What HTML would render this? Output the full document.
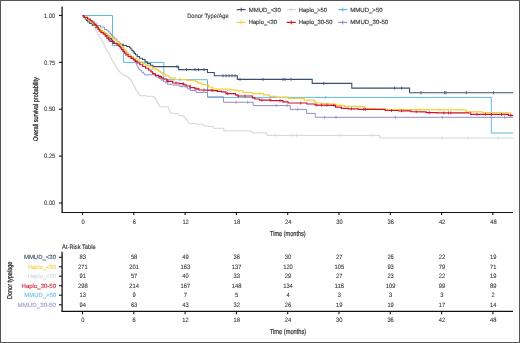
<!DOCTYPE html>
<html><head><meta charset="utf-8"><style>
html,body{margin:0;padding:0;background:#fff;}
body{width:520px;height:343px;overflow:hidden;}
svg{display:block;font-family:"Liberation Sans",sans-serif;text-rendering:geometricPrecision;will-change:transform;}
</style></head><body>
<svg width="520" height="343" viewBox="0 0 520 343">
<rect x="0" y="0" width="520" height="343" fill="#fff"/>
<path d="M5.5,7 V338.5 H514.5 V7" fill="none" stroke="#f9f9f9" stroke-width="1"/>
<g fill="none" stroke-linejoin="miter" stroke-linecap="butt">
<polyline points="82.50,15.70 83.88,15.70 83.88,17.60 86.62,17.60 86.62,19.50 88.00,19.50 89.85,19.50 89.85,21.50 91.70,21.50 92.17,21.50 92.17,23.00 93.10,23.00 93.10,24.50 94.03,24.50 94.03,26.00 94.50,26.00 94.76,26.00 94.76,27.45 95.29,27.45 95.29,28.90 95.81,28.90 95.81,30.35 96.34,30.35 96.34,31.80 96.60,31.80 97.12,31.80 97.12,33.37 98.15,33.37 98.15,34.93 99.18,34.93 99.18,36.50 99.70,36.50 100.23,36.50 100.23,38.33 101.30,38.33 101.30,40.17 102.37,40.17 102.37,42.00 102.90,42.00 103.28,42.00 103.28,43.60 104.03,43.60 104.03,45.20 104.40,45.20 104.58,45.20 104.58,46.57 104.95,46.57 104.95,47.93 105.32,47.93 105.32,49.30 105.50,49.30 106.38,49.30 106.38,51.05 108.12,51.05 108.12,52.80 109.00,52.80 109.29,52.80 109.29,54.27 109.86,54.27 109.86,55.75 110.44,55.75 110.44,57.23 111.01,57.23 111.01,58.70 111.30,58.70 111.74,58.70 111.74,60.15 112.61,60.15 112.61,61.60 113.49,61.60 113.49,63.05 114.36,63.05 114.36,64.50 114.80,64.50 115.24,64.50 115.24,65.95 116.11,65.95 116.11,67.40 116.99,67.40 116.99,68.85 117.86,68.85 117.86,70.30 118.30,70.30 119.17,70.30 119.17,72.05 120.92,72.05 120.92,73.80 121.80,73.80 122.98,73.80 122.98,75.00 125.33,75.00 125.33,76.20 126.50,76.20 128.10,76.20 128.10,78.20 129.70,78.20 130.27,78.20 130.27,79.95 131.43,79.95 131.43,81.70 132.00,81.70 132.38,81.70 132.38,83.23 133.15,83.23 133.15,84.77 133.92,84.77 133.92,86.30 134.30,86.30 134.70,86.30 134.70,87.87 135.50,87.87 135.50,89.43 136.30,89.43 136.30,91.00 136.70,91.00 137.28,91.00 137.28,92.57 138.45,92.57 138.45,94.13 139.62,94.13 139.62,95.70 140.20,95.70 146.60,95.70 146.60,96.30 153.00,96.30 154.15,96.30 154.15,98.00 155.30,98.00 155.70,98.00 155.70,99.57 156.50,99.57 156.50,101.13 157.30,101.13 157.30,102.70 157.70,102.70 158.08,102.70 158.08,104.07 158.85,104.07 158.85,105.43 159.62,105.43 159.62,106.80 160.00,106.80 168.20,106.80 168.49,106.80 168.49,108.38 169.06,108.38 169.06,109.95 169.64,109.95 169.64,111.52 170.21,111.52 170.21,113.10 170.50,113.10 174.00,113.10 174.00,113.70 177.50,113.70 178.65,113.70 178.65,115.40 179.80,115.40 181.55,115.40 181.55,116.00 183.30,116.00 184.18,116.00 184.18,117.75 185.93,117.75 185.93,119.50 186.80,119.50 187.20,119.50 187.20,120.87 188.00,120.87 188.00,122.23 188.80,122.23 188.80,123.60 189.20,123.60 195.60,123.60 195.60,124.20 202.00,124.20 203.15,124.20 203.15,125.90 204.30,125.90 208.40,125.90 208.40,126.50 212.50,126.50 213.10,126.50 213.10,128.30 213.70,128.30 223.80,128.30 223.80,130.90 251.70,130.90 251.70,132.80 267.00,132.80 267.00,135.40 379.80,135.40 379.80,138.00 513.30,138.00" stroke="#d4d4d4" stroke-width="1.0"/>
<polyline points="82.50,15.50 112.50,15.50 112.50,45.40 123.40,45.40 123.40,62.40 163.80,62.40 163.80,79.70 207.50,79.70 207.50,97.40 491.30,97.40 491.30,133.00 513.30,133.00" stroke="#62b8e0" stroke-width="1.0"/>
<polyline points="82.50,15.70 83.88,15.70 83.88,17.60 86.62,17.60 86.62,19.50 88.00,19.50 90.00,19.50 90.00,21.80 92.00,21.80 93.53,21.80 93.53,23.65 96.57,23.65 96.57,25.50 98.10,25.50 100.50,25.50 100.50,27.10 102.90,27.10 104.45,27.10 104.45,29.40 106.00,29.40 106.80,29.40 106.80,30.60 108.40,30.60 108.40,31.80 109.20,31.80 109.97,31.80 109.97,33.75 111.53,33.75 111.53,35.70 112.30,35.70 113.10,35.70 113.10,37.30 114.70,37.30 114.70,38.90 115.50,38.90 117.05,38.90 117.05,41.30 118.60,41.30 119.20,41.30 119.20,43.15 120.40,43.15 120.40,45.00 121.00,45.00 121.50,45.00 121.50,46.50 122.50,46.50 122.50,48.00 123.50,48.00 123.50,49.50 124.00,49.50 125.00,49.50 125.00,51.25 127.00,51.25 127.00,53.00 128.00,53.00 129.00,53.00 129.00,55.00 131.00,55.00 131.00,57.00 132.00,57.00 132.63,57.00 132.63,58.83 133.90,58.83 133.90,60.67 135.17,60.67 135.17,62.50 135.80,62.50 136.20,62.50 136.20,64.17 137.00,64.17 137.00,65.83 137.80,65.83 137.80,67.50 138.20,67.50 138.77,67.50 138.77,68.90 139.93,68.90 139.93,70.30 140.50,70.30 141.75,70.30 141.75,72.30 143.00,72.30 143.55,72.30 143.55,73.55 144.65,73.55 144.65,74.80 145.20,74.80 153.30,74.80 155.65,74.80 155.65,77.00 158.00,77.00 159.00,77.00 159.00,78.50 161.00,78.50 161.00,80.00 162.00,80.00 163.35,80.00 163.35,81.70 164.70,81.70 165.70,81.70 165.70,83.00 167.70,83.00 167.70,84.30 168.70,84.30 171.85,84.30 171.85,85.00 175.00,85.00 179.15,85.00 179.15,86.30 183.30,86.30 184.65,86.30 184.65,87.00 186.00,87.00 187.50,87.00 187.50,88.75 190.50,88.75 190.50,90.50 192.00,90.50 196.00,90.50 196.00,92.40 200.00,92.40 207.50,92.40 207.50,96.90 223.60,96.90 223.60,102.30 253.20,102.30 253.20,105.60 290.20,105.60 290.20,109.40 306.60,109.40 306.60,113.40 315.30,113.40 315.30,117.30 513.30,117.30" stroke="#928ec6" stroke-width="1.0"/>
<polyline points="82.50,15.70 83.60,15.70 83.60,17.50 84.70,17.50 85.27,17.50 85.27,19.00 86.42,19.00 86.42,20.50 87.00,20.50 87.88,20.50 87.88,22.00 89.62,22.00 89.62,23.50 90.50,23.50 92.25,23.50 92.25,25.50 94.00,25.50 95.75,25.50 95.75,27.80 97.50,27.80 98.47,27.80 98.47,29.27 100.40,29.27 100.40,30.73 102.33,30.73 102.33,32.20 103.30,32.20 104.28,32.20 104.28,33.80 106.25,33.80 106.25,35.40 108.22,35.40 108.22,37.00 109.20,37.00 109.93,37.00 109.93,38.62 111.38,38.62 111.38,40.25 112.83,40.25 112.83,41.88 114.28,41.88 114.28,43.50 115.00,43.50 118.60,43.60 120.30,43.60 120.30,44.30 122.00,44.30 123.15,44.30 123.15,45.50 124.30,45.50 126.65,45.50 126.65,46.50 129.00,46.50 129.57,46.50 129.57,47.75 130.73,47.75 130.73,49.00 131.30,49.00 131.90,49.00 131.90,50.45 133.10,50.45 133.10,51.90 133.70,51.90 134.27,51.90 134.27,53.35 135.43,53.35 135.43,54.80 136.00,54.80 137.15,54.80 137.15,56.60 138.30,56.60 139.50,56.60 139.50,58.30 140.70,58.30 142.45,58.30 142.45,59.50 144.20,59.50 145.10,59.50 145.10,61.80 146.00,61.80 147.40,61.80 147.40,63.60 148.80,63.60 150.55,63.60 150.55,65.30 152.30,65.30 152.90,65.30 152.90,66.60 153.50,66.60 178.60,66.60 178.60,69.60 207.50,69.60 207.50,72.50 214.30,72.50 214.30,75.80 237.40,75.80 237.40,79.40 312.20,79.40 312.20,83.40 351.80,83.40 351.80,88.10 409.60,88.10 409.60,92.70 513.30,92.70" stroke="#3a5072" stroke-width="1.1"/>
<polyline points="82.50,15.70 84.25,15.70 84.25,17.80 86.00,17.80 86.95,17.80 86.95,19.17 88.85,19.17 88.85,20.53 90.75,20.53 90.75,21.90 91.70,21.90 92.48,21.90 92.48,23.47 94.05,23.47 94.05,25.03 95.62,25.03 95.62,26.60 96.40,26.60 97.62,26.60 97.62,28.40 100.08,28.40 100.08,30.20 101.30,30.20 102.23,30.20 102.23,31.50 104.08,31.50 104.08,32.80 105.00,32.80 106.05,32.80 106.05,34.35 108.15,34.35 108.15,35.90 109.20,35.90 110.38,35.90 110.38,37.40 112.73,37.40 112.73,38.90 113.90,38.90 114.88,38.90 114.88,40.20 116.83,40.20 116.83,41.50 117.80,41.50 118.50,41.50 118.50,43.17 119.90,43.17 119.90,44.83 121.30,44.83 121.30,46.50 122.00,46.50 122.70,46.50 122.70,48.10 124.10,48.10 124.10,49.70 125.50,49.70 125.50,51.30 126.90,51.30 126.90,52.90 128.30,52.90 128.30,54.50 129.00,54.50 130.45,54.50 130.45,56.40 133.35,56.40 133.35,58.30 134.80,58.30 136.28,58.30 136.28,60.05 139.22,60.05 139.22,61.80 140.70,61.80 142.45,61.80 142.45,63.55 145.95,63.55 145.95,65.30 147.70,65.30 148.85,65.30 148.85,67.00 150.00,67.00 152.35,67.00 152.35,68.60 154.70,68.60 155.85,68.60 155.85,69.60 157.00,69.60 158.17,69.60 158.17,71.07 160.50,71.07 160.50,72.53 162.83,72.53 162.83,74.00 164.00,74.00 165.75,74.00 165.75,75.90 169.25,75.90 169.25,77.80 171.00,77.80 175.00,77.80 175.00,79.50 179.00,79.50 186.65,79.50 186.65,80.30 194.30,80.30 195.48,80.30 195.48,81.65 197.82,81.65 197.82,83.00 199.00,83.00 201.90,83.00 201.90,84.70 204.80,84.70 207.00,84.90 208.60,84.90 208.60,87.00 210.20,87.00 212.95,87.00 212.95,89.20 215.70,89.20 223.60,89.20 227.55,89.20 227.55,89.80 231.50,89.80 235.75,89.80 235.75,90.80 240.00,90.80 243.35,90.80 243.35,92.50 246.70,92.50 252.50,92.50 252.50,93.70 258.30,93.70 263.55,93.70 263.55,94.80 268.80,94.80 269.40,94.80 269.40,96.40 270.00,96.40 275.85,96.40 275.85,97.20 281.70,97.20 288.35,97.20 288.35,98.30 295.00,98.30 304.15,98.30 304.15,100.10 313.30,100.10 314.18,100.10 314.18,101.55 315.93,101.55 315.93,103.00 316.80,103.00 320.90,103.00 320.90,103.60 325.00,103.60 329.65,103.60 329.65,104.20 334.30,104.20 336.65,104.20 336.65,105.30 339.00,105.30 344.50,105.30 344.50,106.30 350.00,106.30 356.25,106.30 356.25,106.70 362.50,106.70 364.85,106.70 364.85,108.60 367.20,108.60 375.35,108.60 375.35,109.00 383.50,109.00 387.60,109.00 387.60,109.60 391.70,109.60 411.70,109.70 461.80,109.90 465.90,109.90 465.90,111.90 470.00,111.90 482.50,111.90 482.50,112.70 495.00,112.70 511.50,113.00" stroke="#f3d03c" stroke-width="1.2"/>
<polyline points="82.50,15.70 84.15,15.70 84.15,17.30 85.80,17.30 87.60,17.30 87.60,19.00 89.40,19.00 90.28,19.00 90.28,20.50 92.03,20.50 92.03,22.00 92.90,22.00 94.05,22.00 94.05,24.30 95.20,24.30 95.77,24.30 95.77,25.75 96.92,25.75 96.92,27.20 97.50,27.20 98.05,27.20 98.05,29.10 99.15,29.10 99.15,31.00 99.70,31.00 100.88,31.00 100.88,32.60 103.23,32.60 103.23,34.20 104.40,34.20 105.20,34.20 105.20,36.15 106.80,36.15 106.80,38.10 107.60,38.10 108.38,38.10 108.38,39.80 109.92,39.80 109.92,41.50 110.70,41.50 113.10,41.50 113.10,43.30 115.50,43.30 117.05,43.30 117.05,45.20 118.60,45.20 119.15,45.20 119.15,46.50 120.25,46.50 120.25,47.80 120.80,47.80 121.54,47.80 121.54,49.55 123.01,49.55 123.01,51.30 124.49,51.30 124.49,53.05 125.96,53.05 125.96,54.80 126.70,54.80 128.15,54.80 128.15,56.55 131.05,56.55 131.05,58.30 132.50,58.30 133.47,58.30 133.47,59.87 135.40,59.87 135.40,61.43 137.33,61.43 137.33,63.00 138.30,63.00 139.78,63.00 139.78,64.75 142.72,64.75 142.72,66.50 144.20,66.50 145.65,66.50 145.65,68.25 148.55,68.25 148.55,70.00 150.00,70.00 150.88,70.00 150.88,71.85 152.62,71.85 152.62,73.70 153.50,73.70 155.25,73.70 155.25,75.40 157.00,75.40 158.75,75.40 158.75,76.60 160.50,76.60 161.38,76.60 161.38,77.80 163.12,77.80 163.12,79.00 164.00,79.00 166.90,79.00 166.90,81.30 169.80,81.30 172.75,81.30 172.75,83.00 175.70,83.00 179.20,83.00 179.20,83.60 182.70,83.60 183.85,83.60 183.85,84.80 186.15,84.80 186.15,86.00 187.30,86.00 190.15,86.00 190.15,87.70 193.00,87.70 194.85,87.70 194.85,88.80 196.70,88.80 199.00,88.80 199.00,90.00 201.30,90.00 208.00,90.20 211.85,90.20 211.85,90.60 215.70,90.60 217.35,90.60 217.35,91.40 219.00,91.40 221.30,91.40 221.30,91.80 223.60,91.80 225.95,91.80 225.95,93.60 228.30,93.60 234.60,93.60 235.45,93.60 235.45,94.80 237.15,94.80 237.15,96.00 238.00,96.00 251.30,96.00 252.50,96.00 252.50,97.80 253.70,97.80 254.85,97.80 254.85,99.00 256.00,99.00 259.50,99.00 259.50,100.10 263.00,100.10 271.15,100.10 271.15,100.70 279.30,100.70 282.80,100.70 282.80,101.80 286.30,101.80 288.05,101.80 288.05,103.00 289.80,103.00 300.50,103.00 306.90,103.00 306.90,104.00 313.30,104.00 315.05,104.00 315.05,105.10 316.80,105.10 334.30,105.30 335.50,105.30 335.50,107.10 336.70,107.10 341.35,107.10 341.35,108.30 346.00,108.30 348.40,108.30 348.40,108.80 350.80,108.80 358.40,108.80 358.40,109.40 366.00,109.40 383.50,109.40 385.25,109.40 385.25,110.50 387.00,110.50 398.75,110.50 398.75,110.90 410.50,110.90 411.00,110.90 411.00,111.70 411.50,111.70 425.50,111.80 426.10,111.80 426.10,112.60 426.70,112.60 436.70,112.60 436.70,112.90 446.70,112.90 470.00,112.90 470.60,112.90 470.60,114.30 471.20,114.30 508.50,114.40 508.50,115.30 513.30,115.30" stroke="#c8142e" stroke-width="1.2"/>
<g stroke="#3a5072" stroke-width="0.8"><line x1="177.0" y1="65.0" x2="177.0" y2="68.2"/><line x1="186.5" y1="68.0" x2="186.5" y2="71.2"/><line x1="195.0" y1="68.0" x2="195.0" y2="71.2"/><line x1="198.5" y1="68.0" x2="198.5" y2="71.2"/><line x1="204.0" y1="68.0" x2="204.0" y2="71.2"/><line x1="223.0" y1="74.2" x2="223.0" y2="77.4"/><line x1="226.0" y1="74.2" x2="226.0" y2="77.4"/><line x1="229.0" y1="74.2" x2="229.0" y2="77.4"/><line x1="232.0" y1="74.2" x2="232.0" y2="77.4"/><line x1="235.0" y1="74.2" x2="235.0" y2="77.4"/><line x1="240.0" y1="77.8" x2="240.0" y2="81.0"/><line x1="263.0" y1="77.8" x2="263.0" y2="81.0"/><line x1="283.0" y1="77.8" x2="283.0" y2="81.0"/><line x1="285.0" y1="77.8" x2="285.0" y2="81.0"/><line x1="291.0" y1="77.8" x2="291.0" y2="81.0"/><line x1="323.8" y1="81.8" x2="323.8" y2="85.0"/><line x1="394.6" y1="86.5" x2="394.6" y2="89.7"/><line x1="401.6" y1="86.5" x2="401.6" y2="89.7"/><line x1="421.0" y1="91.1" x2="421.0" y2="94.3"/><line x1="444.6" y1="91.1" x2="444.6" y2="94.3"/><line x1="446.0" y1="91.1" x2="446.0" y2="94.3"/><line x1="466.3" y1="91.1" x2="466.3" y2="94.3"/><line x1="493.5" y1="91.1" x2="493.5" y2="94.3"/></g>
<g stroke="#c8142e" stroke-width="0.8"><line x1="160.0" y1="75.1" x2="160.0" y2="78.1"/><line x1="168.0" y1="79.8" x2="168.0" y2="82.8"/><line x1="176.0" y1="81.5" x2="176.0" y2="84.5"/><line x1="183.0" y1="82.1" x2="183.0" y2="85.1"/><line x1="190.0" y1="84.5" x2="190.0" y2="87.5"/><line x1="197.0" y1="87.3" x2="197.0" y2="90.3"/><line x1="204.0" y1="88.6" x2="204.0" y2="91.6"/><line x1="212.0" y1="89.1" x2="212.0" y2="92.1"/><line x1="227.7" y1="92.1" x2="227.7" y2="95.1"/><line x1="238.5" y1="94.5" x2="238.5" y2="97.5"/><line x1="245.0" y1="94.5" x2="245.0" y2="97.5"/><line x1="262.0" y1="98.6" x2="262.0" y2="101.6"/><line x1="270.0" y1="98.6" x2="270.0" y2="101.6"/><line x1="280.0" y1="99.2" x2="280.0" y2="102.2"/><line x1="300.8" y1="101.5" x2="300.8" y2="104.5"/><line x1="316.9" y1="103.6" x2="316.9" y2="106.6"/><line x1="321.5" y1="103.7" x2="321.5" y2="106.7"/><line x1="326.9" y1="103.7" x2="326.9" y2="106.7"/><line x1="333.8" y1="103.8" x2="333.8" y2="106.8"/><line x1="351.5" y1="107.3" x2="351.5" y2="110.3"/><line x1="363.8" y1="107.9" x2="363.8" y2="110.9"/><line x1="365.4" y1="107.9" x2="365.4" y2="110.9"/><line x1="391.5" y1="109.0" x2="391.5" y2="112.0"/><line x1="401.5" y1="109.4" x2="401.5" y2="112.4"/><line x1="416.2" y1="110.2" x2="416.2" y2="113.2"/><line x1="429.2" y1="111.1" x2="429.2" y2="114.1"/><line x1="443.8" y1="111.4" x2="443.8" y2="114.4"/><line x1="448.5" y1="111.4" x2="448.5" y2="114.4"/><line x1="450.8" y1="111.4" x2="450.8" y2="114.4"/><line x1="477.0" y1="112.8" x2="477.0" y2="115.8"/><line x1="485.4" y1="112.8" x2="485.4" y2="115.8"/><line x1="491.5" y1="112.9" x2="491.5" y2="115.9"/><line x1="501.5" y1="112.9" x2="501.5" y2="115.9"/><line x1="510.8" y1="113.8" x2="510.8" y2="116.8"/></g>
<g stroke="#928ec6" stroke-width="0.8"><line x1="182.0" y1="84.8" x2="182.0" y2="87.8"/><line x1="190.0" y1="87.2" x2="190.0" y2="90.2"/><line x1="236.0" y1="100.8" x2="236.0" y2="103.8"/><line x1="247.7" y1="100.8" x2="247.7" y2="103.8"/><line x1="276.2" y1="104.1" x2="276.2" y2="107.1"/><line x1="287.0" y1="104.1" x2="287.0" y2="107.1"/><line x1="297.7" y1="107.9" x2="297.7" y2="110.9"/><line x1="324.6" y1="115.8" x2="324.6" y2="118.8"/><line x1="336.0" y1="115.8" x2="336.0" y2="118.8"/><line x1="395.4" y1="115.8" x2="395.4" y2="118.8"/><line x1="442.3" y1="115.8" x2="442.3" y2="118.8"/><line x1="504.6" y1="115.8" x2="504.6" y2="118.8"/></g>
<g stroke="#f3d03c" stroke-width="0.8"><line x1="200.0" y1="81.5" x2="200.0" y2="84.5"/><line x1="230.0" y1="88.3" x2="230.0" y2="91.3"/><line x1="260.0" y1="92.2" x2="260.0" y2="95.2"/><line x1="300.0" y1="96.8" x2="300.0" y2="99.8"/><line x1="340.0" y1="103.8" x2="340.0" y2="106.8"/><line x1="360.0" y1="105.2" x2="360.0" y2="108.2"/><line x1="400.0" y1="108.1" x2="400.0" y2="111.1"/><line x1="420.0" y1="108.2" x2="420.0" y2="111.2"/><line x1="440.0" y1="108.3" x2="440.0" y2="111.3"/><line x1="470.0" y1="110.4" x2="470.0" y2="113.4"/><line x1="500.0" y1="111.3" x2="500.0" y2="114.3"/></g>
<g stroke="#d4d4d4" stroke-width="0.8"><line x1="275.0" y1="133.9" x2="275.0" y2="136.9"/><line x1="292.6" y1="133.9" x2="292.6" y2="136.9"/><line x1="296.6" y1="133.9" x2="296.6" y2="136.9"/><line x1="339.7" y1="133.9" x2="339.7" y2="136.9"/><line x1="372.0" y1="133.9" x2="372.0" y2="136.9"/><line x1="442.0" y1="136.5" x2="442.0" y2="139.5"/><line x1="468.0" y1="136.5" x2="468.0" y2="139.5"/><line x1="498.0" y1="136.5" x2="498.0" y2="139.5"/></g>
<g stroke="#62b8e0" stroke-width="0.8"><line x1="180.0" y1="78.2" x2="180.0" y2="81.2"/><line x1="325.7" y1="95.9" x2="325.7" y2="98.9"/></g>
</g>
<g stroke="#111" stroke-width="1.3" fill="none">
<polyline points="62.1,6.5 62.1,212.5"/><polyline points="61.5,212.5 513,212.5" stroke-width="1.1"/>
<line x1="82.5" y1="212.5" x2="82.5" y2="214.9" stroke-width="1.1"/><line x1="133.8" y1="212.5" x2="133.8" y2="214.9" stroke-width="1.1"/><line x1="185.1" y1="212.5" x2="185.1" y2="214.9" stroke-width="1.1"/><line x1="236.4" y1="212.5" x2="236.4" y2="214.9" stroke-width="1.1"/><line x1="287.7" y1="212.5" x2="287.7" y2="214.9" stroke-width="1.1"/><line x1="339.0" y1="212.5" x2="339.0" y2="214.9" stroke-width="1.1"/><line x1="390.3" y1="212.5" x2="390.3" y2="214.9" stroke-width="1.1"/><line x1="441.6" y1="212.5" x2="441.6" y2="214.9" stroke-width="1.1"/><line x1="492.9" y1="212.5" x2="492.9" y2="214.9" stroke-width="1.1"/><line x1="59" y1="15.5" x2="62" y2="15.5" stroke-width="1.1"/><line x1="59" y1="62.4" x2="62" y2="62.4" stroke-width="1.1"/><line x1="59" y1="109.2" x2="62" y2="109.2" stroke-width="1.1"/><line x1="59" y1="156.1" x2="62" y2="156.1" stroke-width="1.1"/><line x1="59" y1="203.0" x2="62" y2="203.0" stroke-width="1.1"/>
<polyline points="62.1,251.8 62.1,311.4"/><polyline points="61.5,311.4 513,311.4" stroke-width="1.15"/>
<line x1="59" y1="257.3" x2="62" y2="257.3" stroke-width="1.1"/><line x1="59" y1="266.8" x2="62" y2="266.8" stroke-width="1.1"/><line x1="59" y1="276.2" x2="62" y2="276.2" stroke-width="1.1"/><line x1="59" y1="285.7" x2="62" y2="285.7" stroke-width="1.1"/><line x1="59" y1="295.2" x2="62" y2="295.2" stroke-width="1.1"/><line x1="59" y1="304.8" x2="62" y2="304.8" stroke-width="1.1"/><line x1="82.5" y1="311.4" x2="82.5" y2="314.2" stroke-width="1.1"/><line x1="133.8" y1="311.4" x2="133.8" y2="314.2" stroke-width="1.1"/><line x1="185.1" y1="311.4" x2="185.1" y2="314.2" stroke-width="1.1"/><line x1="236.4" y1="311.4" x2="236.4" y2="314.2" stroke-width="1.1"/><line x1="287.7" y1="311.4" x2="287.7" y2="314.2" stroke-width="1.1"/><line x1="339.0" y1="311.4" x2="339.0" y2="314.2" stroke-width="1.1"/><line x1="390.3" y1="311.4" x2="390.3" y2="314.2" stroke-width="1.1"/><line x1="441.6" y1="311.4" x2="441.6" y2="314.2" stroke-width="1.1"/><line x1="492.9" y1="311.4" x2="492.9" y2="314.2" stroke-width="1.1"/>
</g>
<g fill="#333333">
<text x="55.30" y="17.70" font-size="6.3" text-anchor="end" stroke="#333333" stroke-width="0.08" textLength="11.20" lengthAdjust="spacingAndGlyphs">1.00</text><text x="55.30" y="64.58" font-size="6.3" text-anchor="end" stroke="#333333" stroke-width="0.08" textLength="11.20" lengthAdjust="spacingAndGlyphs">0.75</text><text x="55.30" y="111.45" font-size="6.3" text-anchor="end" stroke="#333333" stroke-width="0.08" textLength="11.20" lengthAdjust="spacingAndGlyphs">0.50</text><text x="55.30" y="158.32" font-size="6.3" text-anchor="end" stroke="#333333" stroke-width="0.08" textLength="11.20" lengthAdjust="spacingAndGlyphs">0.25</text><text x="55.30" y="205.20" font-size="6.3" text-anchor="end" stroke="#333333" stroke-width="0.08" textLength="11.20" lengthAdjust="spacingAndGlyphs">0.00</text><text x="83.00" y="224.20" font-size="6.3" text-anchor="middle" stroke="#333333" stroke-width="0.08" textLength="3.23" lengthAdjust="spacingAndGlyphs">0</text><text x="134.30" y="224.20" font-size="6.3" text-anchor="middle" stroke="#333333" stroke-width="0.08" textLength="3.23" lengthAdjust="spacingAndGlyphs">6</text><text x="185.60" y="224.20" font-size="6.3" text-anchor="middle" stroke="#333333" stroke-width="0.08" textLength="6.45" lengthAdjust="spacingAndGlyphs">12</text><text x="236.90" y="224.20" font-size="6.3" text-anchor="middle" stroke="#333333" stroke-width="0.08" textLength="6.45" lengthAdjust="spacingAndGlyphs">18</text><text x="288.20" y="224.20" font-size="6.3" text-anchor="middle" stroke="#333333" stroke-width="0.08" textLength="6.45" lengthAdjust="spacingAndGlyphs">24</text><text x="339.50" y="224.20" font-size="6.3" text-anchor="middle" stroke="#333333" stroke-width="0.08" textLength="6.45" lengthAdjust="spacingAndGlyphs">30</text><text x="390.80" y="224.20" font-size="6.3" text-anchor="middle" stroke="#333333" stroke-width="0.08" textLength="6.45" lengthAdjust="spacingAndGlyphs">36</text><text x="442.10" y="224.20" font-size="6.3" text-anchor="middle" stroke="#333333" stroke-width="0.08" textLength="6.45" lengthAdjust="spacingAndGlyphs">42</text><text x="493.40" y="224.20" font-size="6.3" text-anchor="middle" stroke="#333333" stroke-width="0.08" textLength="6.45" lengthAdjust="spacingAndGlyphs">48</text>
<line x1="236.7" y1="9.6" x2="245.7" y2="9.6" stroke="#3a5072" stroke-width="1.2"/><line x1="241.2" y1="7.6" x2="241.2" y2="11.6" stroke="#3a5072" stroke-width="1"/><text x="248.70" y="11.60" font-size="6.0" stroke="#333333" stroke-width="0.14" textLength="32.10" lengthAdjust="spacingAndGlyphs">MMUD_&lt;30</text><line x1="286.8" y1="9.6" x2="295.8" y2="9.6" stroke="#d4d4d4" stroke-width="1.2"/><line x1="291.3" y1="7.6" x2="291.3" y2="11.6" stroke="#d4d4d4" stroke-width="1"/><text x="298.80" y="11.60" font-size="6.0" stroke="#333333" stroke-width="0.14" textLength="28.30" lengthAdjust="spacingAndGlyphs">Haplo_&gt;50</text><line x1="338.3" y1="9.6" x2="347.3" y2="9.6" stroke="#62b8e0" stroke-width="1.2"/><line x1="342.8" y1="7.6" x2="342.8" y2="11.6" stroke="#62b8e0" stroke-width="1"/><text x="350.30" y="11.60" font-size="6.0" stroke="#333333" stroke-width="0.14" textLength="32.30" lengthAdjust="spacingAndGlyphs">MMUD_&gt;50</text><line x1="236.7" y1="22.4" x2="245.7" y2="22.4" stroke="#f3d03c" stroke-width="1.2"/><line x1="241.2" y1="20.4" x2="241.2" y2="24.4" stroke="#f3d03c" stroke-width="1"/><text x="248.70" y="24.40" font-size="6.0" stroke="#333333" stroke-width="0.14" textLength="28.30" lengthAdjust="spacingAndGlyphs">Haplo_&lt;30</text><line x1="286.8" y1="22.4" x2="295.8" y2="22.4" stroke="#c8142e" stroke-width="1.2"/><line x1="291.3" y1="20.4" x2="291.3" y2="24.4" stroke="#c8142e" stroke-width="1"/><text x="298.80" y="24.40" font-size="6.0" stroke="#333333" stroke-width="0.14" textLength="33.70" lengthAdjust="spacingAndGlyphs">Haplo_30-50</text><line x1="338.3" y1="22.4" x2="347.3" y2="22.4" stroke="#928ec6" stroke-width="1.2"/><line x1="342.8" y1="20.4" x2="342.8" y2="24.4" stroke="#928ec6" stroke-width="1"/><text x="350.30" y="24.40" font-size="6.0" stroke="#333333" stroke-width="0.14" textLength="37.90" lengthAdjust="spacingAndGlyphs">MMUD_30-50</text>
<text x="187.20" y="17.70" font-size="6.3" stroke="#333333" stroke-width="0.1" textLength="41.60" lengthAdjust="spacingAndGlyphs">Donor Type/Age</text>
<text x="62.10" y="248.50" font-size="6.4" stroke="#333333" stroke-width="0.15" textLength="33.60" lengthAdjust="spacingAndGlyphs">At-Risk Table</text>
<text x="82.80" y="259.40" font-size="6.3" text-anchor="middle" stroke="#333333" stroke-width="0.08" textLength="6.45" lengthAdjust="spacingAndGlyphs">83</text><text x="134.10" y="259.40" font-size="6.3" text-anchor="middle" stroke="#333333" stroke-width="0.08" textLength="6.45" lengthAdjust="spacingAndGlyphs">58</text><text x="185.40" y="259.40" font-size="6.3" text-anchor="middle" stroke="#333333" stroke-width="0.08" textLength="6.45" lengthAdjust="spacingAndGlyphs">49</text><text x="236.70" y="259.40" font-size="6.3" text-anchor="middle" stroke="#333333" stroke-width="0.08" textLength="6.45" lengthAdjust="spacingAndGlyphs">36</text><text x="288.00" y="259.40" font-size="6.3" text-anchor="middle" stroke="#333333" stroke-width="0.08" textLength="6.45" lengthAdjust="spacingAndGlyphs">30</text><text x="339.30" y="259.40" font-size="6.3" text-anchor="middle" stroke="#333333" stroke-width="0.08" textLength="6.45" lengthAdjust="spacingAndGlyphs">27</text><text x="390.60" y="259.40" font-size="6.3" text-anchor="middle" stroke="#333333" stroke-width="0.08" textLength="6.45" lengthAdjust="spacingAndGlyphs">26</text><text x="441.90" y="259.40" font-size="6.3" text-anchor="middle" stroke="#333333" stroke-width="0.08" textLength="6.45" lengthAdjust="spacingAndGlyphs">22</text><text x="493.20" y="259.40" font-size="6.3" text-anchor="middle" stroke="#333333" stroke-width="0.08" textLength="6.45" lengthAdjust="spacingAndGlyphs">19</text><text x="82.80" y="268.90" font-size="6.3" text-anchor="middle" stroke="#333333" stroke-width="0.08" textLength="9.68" lengthAdjust="spacingAndGlyphs">271</text><text x="134.10" y="268.90" font-size="6.3" text-anchor="middle" stroke="#333333" stroke-width="0.08" textLength="9.68" lengthAdjust="spacingAndGlyphs">201</text><text x="185.40" y="268.90" font-size="6.3" text-anchor="middle" stroke="#333333" stroke-width="0.08" textLength="9.68" lengthAdjust="spacingAndGlyphs">163</text><text x="236.70" y="268.90" font-size="6.3" text-anchor="middle" stroke="#333333" stroke-width="0.08" textLength="9.68" lengthAdjust="spacingAndGlyphs">137</text><text x="288.00" y="268.90" font-size="6.3" text-anchor="middle" stroke="#333333" stroke-width="0.08" textLength="9.68" lengthAdjust="spacingAndGlyphs">120</text><text x="339.30" y="268.90" font-size="6.3" text-anchor="middle" stroke="#333333" stroke-width="0.08" textLength="9.68" lengthAdjust="spacingAndGlyphs">105</text><text x="390.60" y="268.90" font-size="6.3" text-anchor="middle" stroke="#333333" stroke-width="0.08" textLength="6.45" lengthAdjust="spacingAndGlyphs">93</text><text x="441.90" y="268.90" font-size="6.3" text-anchor="middle" stroke="#333333" stroke-width="0.08" textLength="6.45" lengthAdjust="spacingAndGlyphs">79</text><text x="493.20" y="268.90" font-size="6.3" text-anchor="middle" stroke="#333333" stroke-width="0.08" textLength="6.45" lengthAdjust="spacingAndGlyphs">71</text><text x="82.80" y="278.30" font-size="6.3" text-anchor="middle" stroke="#333333" stroke-width="0.08" textLength="6.45" lengthAdjust="spacingAndGlyphs">91</text><text x="134.10" y="278.30" font-size="6.3" text-anchor="middle" stroke="#333333" stroke-width="0.08" textLength="6.45" lengthAdjust="spacingAndGlyphs">57</text><text x="185.40" y="278.30" font-size="6.3" text-anchor="middle" stroke="#333333" stroke-width="0.08" textLength="6.45" lengthAdjust="spacingAndGlyphs">40</text><text x="236.70" y="278.30" font-size="6.3" text-anchor="middle" stroke="#333333" stroke-width="0.08" textLength="6.45" lengthAdjust="spacingAndGlyphs">33</text><text x="288.00" y="278.30" font-size="6.3" text-anchor="middle" stroke="#333333" stroke-width="0.08" textLength="6.45" lengthAdjust="spacingAndGlyphs">29</text><text x="339.30" y="278.30" font-size="6.3" text-anchor="middle" stroke="#333333" stroke-width="0.08" textLength="6.45" lengthAdjust="spacingAndGlyphs">27</text><text x="390.60" y="278.30" font-size="6.3" text-anchor="middle" stroke="#333333" stroke-width="0.08" textLength="6.45" lengthAdjust="spacingAndGlyphs">23</text><text x="441.90" y="278.30" font-size="6.3" text-anchor="middle" stroke="#333333" stroke-width="0.08" textLength="6.45" lengthAdjust="spacingAndGlyphs">22</text><text x="493.20" y="278.30" font-size="6.3" text-anchor="middle" stroke="#333333" stroke-width="0.08" textLength="6.45" lengthAdjust="spacingAndGlyphs">19</text><text x="82.80" y="287.80" font-size="6.3" text-anchor="middle" stroke="#333333" stroke-width="0.08" textLength="9.68" lengthAdjust="spacingAndGlyphs">298</text><text x="134.10" y="287.80" font-size="6.3" text-anchor="middle" stroke="#333333" stroke-width="0.08" textLength="9.68" lengthAdjust="spacingAndGlyphs">214</text><text x="185.40" y="287.80" font-size="6.3" text-anchor="middle" stroke="#333333" stroke-width="0.08" textLength="9.68" lengthAdjust="spacingAndGlyphs">167</text><text x="236.70" y="287.80" font-size="6.3" text-anchor="middle" stroke="#333333" stroke-width="0.08" textLength="9.68" lengthAdjust="spacingAndGlyphs">148</text><text x="288.00" y="287.80" font-size="6.3" text-anchor="middle" stroke="#333333" stroke-width="0.08" textLength="9.68" lengthAdjust="spacingAndGlyphs">134</text><text x="339.30" y="287.80" font-size="6.3" text-anchor="middle" stroke="#333333" stroke-width="0.08" textLength="9.68" lengthAdjust="spacingAndGlyphs">116</text><text x="390.60" y="287.80" font-size="6.3" text-anchor="middle" stroke="#333333" stroke-width="0.08" textLength="9.68" lengthAdjust="spacingAndGlyphs">109</text><text x="441.90" y="287.80" font-size="6.3" text-anchor="middle" stroke="#333333" stroke-width="0.08" textLength="6.45" lengthAdjust="spacingAndGlyphs">99</text><text x="493.20" y="287.80" font-size="6.3" text-anchor="middle" stroke="#333333" stroke-width="0.08" textLength="6.45" lengthAdjust="spacingAndGlyphs">89</text><text x="82.80" y="297.30" font-size="6.3" text-anchor="middle" stroke="#333333" stroke-width="0.08" textLength="6.45" lengthAdjust="spacingAndGlyphs">13</text><text x="134.10" y="297.30" font-size="6.3" text-anchor="middle" stroke="#333333" stroke-width="0.08" textLength="3.23" lengthAdjust="spacingAndGlyphs">9</text><text x="185.40" y="297.30" font-size="6.3" text-anchor="middle" stroke="#333333" stroke-width="0.08" textLength="3.23" lengthAdjust="spacingAndGlyphs">7</text><text x="236.70" y="297.30" font-size="6.3" text-anchor="middle" stroke="#333333" stroke-width="0.08" textLength="3.23" lengthAdjust="spacingAndGlyphs">5</text><text x="288.00" y="297.30" font-size="6.3" text-anchor="middle" stroke="#333333" stroke-width="0.08" textLength="3.23" lengthAdjust="spacingAndGlyphs">4</text><text x="339.30" y="297.30" font-size="6.3" text-anchor="middle" stroke="#333333" stroke-width="0.08" textLength="3.23" lengthAdjust="spacingAndGlyphs">3</text><text x="390.60" y="297.30" font-size="6.3" text-anchor="middle" stroke="#333333" stroke-width="0.08" textLength="3.23" lengthAdjust="spacingAndGlyphs">3</text><text x="441.90" y="297.30" font-size="6.3" text-anchor="middle" stroke="#333333" stroke-width="0.08" textLength="3.23" lengthAdjust="spacingAndGlyphs">3</text><text x="493.20" y="297.30" font-size="6.3" text-anchor="middle" stroke="#333333" stroke-width="0.08" textLength="3.23" lengthAdjust="spacingAndGlyphs">2</text><text x="82.80" y="306.90" font-size="6.3" text-anchor="middle" stroke="#333333" stroke-width="0.08" textLength="6.45" lengthAdjust="spacingAndGlyphs">94</text><text x="134.10" y="306.90" font-size="6.3" text-anchor="middle" stroke="#333333" stroke-width="0.08" textLength="6.45" lengthAdjust="spacingAndGlyphs">63</text><text x="185.40" y="306.90" font-size="6.3" text-anchor="middle" stroke="#333333" stroke-width="0.08" textLength="6.45" lengthAdjust="spacingAndGlyphs">43</text><text x="236.70" y="306.90" font-size="6.3" text-anchor="middle" stroke="#333333" stroke-width="0.08" textLength="6.45" lengthAdjust="spacingAndGlyphs">32</text><text x="288.00" y="306.90" font-size="6.3" text-anchor="middle" stroke="#333333" stroke-width="0.08" textLength="6.45" lengthAdjust="spacingAndGlyphs">26</text><text x="339.30" y="306.90" font-size="6.3" text-anchor="middle" stroke="#333333" stroke-width="0.08" textLength="6.45" lengthAdjust="spacingAndGlyphs">19</text><text x="390.60" y="306.90" font-size="6.3" text-anchor="middle" stroke="#333333" stroke-width="0.08" textLength="6.45" lengthAdjust="spacingAndGlyphs">19</text><text x="441.90" y="306.90" font-size="6.3" text-anchor="middle" stroke="#333333" stroke-width="0.08" textLength="6.45" lengthAdjust="spacingAndGlyphs">17</text><text x="493.20" y="306.90" font-size="6.3" text-anchor="middle" stroke="#333333" stroke-width="0.08" textLength="6.45" lengthAdjust="spacingAndGlyphs">14</text><text x="82.80" y="322.20" font-size="6.3" text-anchor="middle" stroke="#333333" stroke-width="0.08" textLength="3.23" lengthAdjust="spacingAndGlyphs">0</text><text x="134.10" y="322.20" font-size="6.3" text-anchor="middle" stroke="#333333" stroke-width="0.08" textLength="3.23" lengthAdjust="spacingAndGlyphs">6</text><text x="185.40" y="322.20" font-size="6.3" text-anchor="middle" stroke="#333333" stroke-width="0.08" textLength="6.45" lengthAdjust="spacingAndGlyphs">12</text><text x="236.70" y="322.20" font-size="6.3" text-anchor="middle" stroke="#333333" stroke-width="0.08" textLength="6.45" lengthAdjust="spacingAndGlyphs">18</text><text x="288.00" y="322.20" font-size="6.3" text-anchor="middle" stroke="#333333" stroke-width="0.08" textLength="6.45" lengthAdjust="spacingAndGlyphs">24</text><text x="339.30" y="322.20" font-size="6.3" text-anchor="middle" stroke="#333333" stroke-width="0.08" textLength="6.45" lengthAdjust="spacingAndGlyphs">30</text><text x="390.60" y="322.20" font-size="6.3" text-anchor="middle" stroke="#333333" stroke-width="0.08" textLength="6.45" lengthAdjust="spacingAndGlyphs">36</text><text x="441.90" y="322.20" font-size="6.3" text-anchor="middle" stroke="#333333" stroke-width="0.08" textLength="6.45" lengthAdjust="spacingAndGlyphs">42</text><text x="493.20" y="322.20" font-size="6.3" text-anchor="middle" stroke="#333333" stroke-width="0.08" textLength="6.45" lengthAdjust="spacingAndGlyphs">48</text>
<text x="0.00" y="0.00" font-size="7.0" stroke="#333333" stroke-width="0.3" textLength="63.70" lengthAdjust="spacingAndGlyphs" transform="translate(38.2,141.0) rotate(-90)">Overall survival probability</text>
<text x="270.00" y="235.80" font-size="7.2" stroke="#333333" stroke-width="0.22" textLength="35.70" lengthAdjust="spacingAndGlyphs">Time (months)</text>
<text x="0.00" y="0.00" font-size="7.0" stroke="#333333" stroke-width="0.3" textLength="37.30" lengthAdjust="spacingAndGlyphs" transform="translate(12.4,298.9) rotate(-90)">Donor type/age</text>
<text x="269.80" y="334.10" font-size="7.2" stroke="#333333" stroke-width="0.22" textLength="36.40" lengthAdjust="spacingAndGlyphs">Time (months)</text>
</g>
<text x="56.00" y="259.30" font-size="6.0" text-anchor="end" fill="#3a5072" stroke="#3a5072" stroke-width="0.14" textLength="32.10" lengthAdjust="spacingAndGlyphs">MMUD_&lt;30</text><text x="56.00" y="268.80" font-size="6.0" text-anchor="end" fill="#f2d058" stroke="#f2d058" stroke-width="0.14" textLength="28.30" lengthAdjust="spacingAndGlyphs">Haplo_&lt;30</text><text x="56.00" y="278.20" font-size="6.0" text-anchor="end" fill="#d8d8df" stroke="#d8d8df" stroke-width="0.14" textLength="28.30" lengthAdjust="spacingAndGlyphs">Haplo_&gt;50</text><text x="56.00" y="287.70" font-size="6.0" text-anchor="end" fill="#cc3046" stroke="#cc3046" stroke-width="0.14" textLength="34.40" lengthAdjust="spacingAndGlyphs">Haplo_30-50</text><text x="56.00" y="297.20" font-size="6.0" text-anchor="end" fill="#74bfe4" stroke="#74bfe4" stroke-width="0.14" textLength="31.70" lengthAdjust="spacingAndGlyphs">MMUD_&gt;50</text><text x="56.00" y="306.80" font-size="6.0" text-anchor="end" fill="#a29ed2" stroke="#a29ed2" stroke-width="0.14" textLength="38.40" lengthAdjust="spacingAndGlyphs">MMUD_30-50</text>
<rect x="0.5" y="0.5" width="519" height="342" fill="none" stroke="#555" stroke-width="1"/>
</svg>
</body></html>
